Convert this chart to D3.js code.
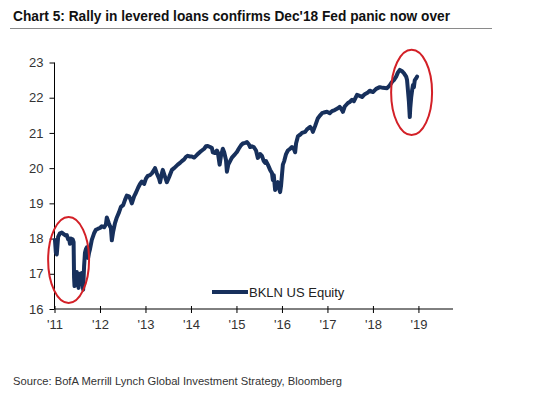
<!DOCTYPE html>
<html><head><meta charset="utf-8">
<script src="https://cdn.jsdelivr.net/npm/d3@7/dist/d3.min.js"></script>
<style>body{margin:0;background:#fff}svg{display:block}</style>
</head><body>
<svg id="c" width="547" height="393"></svg>
<script>
const title = "Chart 5: Rally in levered loans confirms Dec'18 Fed panic now over";
const source = "Source: BofA Merrill Lynch Global Investment Strategy, Bloomberg";
const seriesName = "BKLN US Equity";
const yTicks = [16,17,18,19,20,21,22,23];
const xTicks = [2011,2012,2013,2014,2015,2016,2017,2018,2019];
const xTickLabels = ["'11","'12","'13","'14","'15","'16","'17","'18","'19"];
const dates = [2011.01,2011.03,2011.05,2011.08,2011.12,2011.16,2011.21,2011.25,2011.27,2011.30,2011.32,2011.34,2011.36,2011.40,2011.42,2011.43,2011.44,2011.46,2011.48,2011.49,2011.51,2011.53,2011.54,2011.56,2011.57,2011.59,2011.60,2011.63,2011.65,2011.67,2011.69,2011.71,2011.74,2011.76,2011.78,2011.82,2011.87,2011.91,2011.96,
2012.00,2012.04,2012.09,2012.13,2012.15,2012.19,2012.22,2012.24,2012.26,2012.29,2012.33,2012.37,2012.42,2012.46,2012.51,2012.55,2012.59,2012.64,2012.68,2012.70,2012.75,2012.79,2012.84,2012.88,2012.92,2012.97,
2013.01,2013.05,2013.10,2013.14,2013.19,2013.21,2013.25,2013.30,2013.32,2013.36,2013.38,2013.43,2013.47,2013.52,2013.58,2013.63,2013.67,2013.71,2013.76,2013.80,2013.85,2013.89,2013.93,2013.98,
2014.02,2014.07,2014.11,2014.15,2014.20,2014.24,2014.29,2014.33,2014.37,2014.42,2014.46,2014.48,2014.53,2014.57,2014.59,2014.63,2014.66,2014.70,2014.73,2014.77,2014.79,2014.82,2014.86,2014.90,2014.97,
2015.01,2015.05,2015.10,2015.14,2015.19,2015.23,2015.27,2015.30,2015.34,2015.38,2015.43,2015.47,2015.52,2015.56,2015.60,2015.63,2015.65,2015.69,2015.74,2015.78,2015.80,2015.82,2015.85,2015.88,2015.91,2015.93,2015.96,2015.98,
2016.00,2016.02,2016.05,2016.09,2016.13,2016.18,2016.22,2016.26,2016.29,2016.31,2016.35,2016.40,2016.44,2016.51,2016.55,2016.62,2016.66,2016.68,2016.73,2016.79,2016.84,2016.88,2016.92,2016.99,
2017.05,2017.10,2017.16,2017.23,2017.27,2017.32,2017.34,2017.38,2017.45,2017.49,2017.54,2017.58,2017.65,2017.71,2017.76,2017.82,2017.89,2017.93,
2018.00,2018.07,2018.15,2018.22,2018.31,2018.37,2018.42,2018.46,2018.51,2018.55,2018.59,2018.64,2018.68,2018.73,2018.75,2018.77,2018.79,2018.81,2018.82,2018.84,2018.86,2018.88,2018.90,2018.92,2018.95,2018.97];
const values = [17.96,17.6,17.55,18.05,18.15,18.17,18.12,18.08,18.1,17.98,18.0,17.85,18.0,17.98,17.9,16.9,16.65,16.7,16.95,17.05,16.75,16.6,16.95,17.0,16.7,16.9,17.02,16.55,17.2,17.6,17.7,17.75,17.45,17.6,17.7,17.96,18.15,18.25,18.28,
18.3,18.35,18.32,18.4,18.6,18.45,18.35,18.3,17.95,18.2,18.44,18.6,18.75,18.9,18.95,19.1,19.22,19.2,19.08,19.0,19.2,19.3,19.45,19.55,19.62,19.55,
19.7,19.78,19.8,19.85,19.95,20.0,19.85,19.7,19.6,19.85,19.95,19.75,19.6,19.75,19.95,20.0,20.05,20.1,20.15,20.2,20.25,20.32,20.35,20.33,
20.33,20.3,20.35,20.4,20.46,20.5,20.55,20.62,20.63,20.6,20.57,20.45,20.43,20.5,20.45,20.1,20.35,20.55,20.45,20.23,19.9,20.1,20.2,20.3,20.4,
20.46,20.55,20.65,20.7,20.72,20.74,20.68,20.6,20.62,20.6,20.5,20.29,20.4,20.35,20.2,20.15,20.2,20.1,19.95,19.86,19.66,19.8,19.38,19.55,19.6,19.45,19.32,19.5,
19.8,20.1,20.2,20.4,20.5,20.55,20.6,20.55,20.45,20.7,20.9,20.95,21.0,21.03,21.1,21.17,21.1,21.03,21.2,21.42,21.5,21.56,21.58,21.6,
21.56,21.62,21.65,21.7,21.74,21.65,21.6,21.75,21.85,21.88,21.94,21.9,22.08,22.05,22.02,22.1,22.15,22.2,
22.16,22.25,22.3,22.28,22.27,22.35,22.45,22.5,22.6,22.72,22.79,22.75,22.7,22.6,22.5,22.2,21.9,21.45,21.7,22.0,22.2,22.36,22.3,22.5,22.55,22.6];
// annotation ellipses: [centre date, centre value, half-width in years, half-height in value units]
const circles = [[2011.31,17.39,0.45,1.22],[2018.85,22.15,0.45,1.21]];

const svg = d3.select("#c");
const x = d3.scaleLinear().domain([2011, 2019.76]).range([54.5, 453]);
const y = d3.scaleLinear().domain([16, 23]).range([309, 62.5]);
const font = "'Liberation Sans', Arial, sans-serif";

// title
svg.append("text").attr("x", 13).attr("y", 21)
  .attr("font-family", "'Liberation Sans Narrow', 'Arial Narrow', 'Liberation Sans', Arial, sans-serif")
  .attr("font-weight", "bold").attr("font-size", 15.5).attr("fill", "#111")
  .attr("textLength", 437).attr("lengthAdjust", "spacingAndGlyphs")
  .text(title);
svg.append("line").attr("x1", 10).attr("x2", 492).attr("y1", 28.5).attr("y2", 28.5)
  .attr("stroke", "#8a8a8a").attr("stroke-width", 1);

// axes
const yAxis = d3.axisLeft(y).tickValues(yTicks).tickSize(5).tickSizeOuter(0).tickPadding(6).tickFormat(d3.format("d"));
const gy = svg.append("g").attr("transform", "translate(54.5,0)").call(yAxis);
gy.select(".domain").attr("stroke", "#000").attr("d", `M0,${y(23)}V${y(16)}`);
gy.selectAll(".tick line").attr("stroke", "#000");
gy.selectAll("text").attr("font-family", font).attr("font-size", 13).attr("fill", "#333");

const xAxis = d3.axisBottom(x).tickValues(xTicks).tickSize(4).tickSizeOuter(0).tickPadding(7)
  .tickFormat((d,i) => xTickLabels[i]);
const gx = svg.append("g").attr("transform", "translate(0,309)").call(xAxis);
gx.select(".domain").attr("stroke", "#000").attr("d", `M${x(2011)},0H${x(2019.76)}`);
gx.selectAll(".tick line").attr("stroke", "#000").attr("y1", -3);
gx.selectAll("text").attr("font-family", font).attr("font-size", 13).attr("fill", "#333");

// line
const data = dates.map((d,i) => ({d, v: values[i]}));
svg.append("path").datum(data)
  .attr("fill", "none").attr("stroke", "#17305c").attr("stroke-width", 4)
  .attr("stroke-linejoin", "round").attr("stroke-linecap", "round")
  .attr("d", d3.line().x(p => x(p.d)).y(p => y(p.v)));

// ellipses
svg.selectAll("ellipse.ann").data(circles).join("ellipse").attr("class","ann")
  .attr("cx", c => x(c[0])).attr("cy", c => y(c[1]))
  .attr("rx", c => x(c[0] + c[2]) - x(c[0])).attr("ry", c => y(c[1] - c[3]) - y(c[1]))
  .attr("fill", "none").attr("stroke", "#d32027").attr("stroke-width", 2);

// legend
svg.append("line").attr("x1", 212).attr("x2", 248).attr("y1", 292).attr("y2", 292)
  .attr("stroke", "#17305c").attr("stroke-width", 4);
svg.append("text").attr("x", 249).attr("y", 297).attr("font-family", font).attr("font-size", 13)
  .attr("fill", "#222").text(seriesName);

// source
svg.append("text").attr("x", 13).attr("y", 385).attr("font-family", font).attr("font-size", 11.2)
  .attr("fill", "#333").text(source);
</script>
</body></html>
